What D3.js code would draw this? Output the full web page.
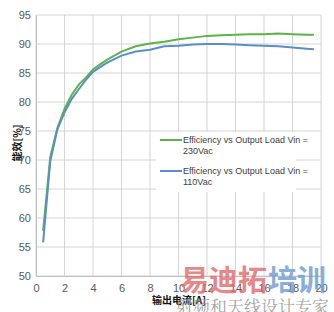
<!DOCTYPE html>
<html>
<head>
<meta charset="utf-8">
<style>
  body { margin: 0; background: #fff; }
  .tick text { font: 11px "Liberation Sans", Arial, sans-serif; fill: #595959; }
  .axis-title { font: bold 10px "Noto Sans CJK SC", sans-serif; fill: #111; }
  .legend text { font: 9px "Liberation Sans", Arial, sans-serif; fill: #404040; }
</style>
</head>
<body>
<svg id="chart" width="334" height="312"></svg>
<script src="https://d3js.org/d3.v7.min.js"></script>
<script>
  // load current (A)
  const load = [0.5, 1, 1.5, 2, 2.5, 3, 3.5, 4, 4.5, 5, 5.5, 6, 7, 8, 9, 10, 11, 12, 13, 14, 15, 16, 17, 18, 19, 19.5];
  // efficiency (%)
  const eff230 = [57.8, 70.5, 75.5, 78.8, 81.2, 83.0, 84.2, 85.6, 86.5, 87.3, 88.0, 88.7, 89.6, 90.1, 90.4, 90.8, 91.1, 91.4, 91.5, 91.6, 91.7, 91.7, 91.8, 91.7, 91.6, 91.6];
  const eff110 = [55.8, 69.8, 75.3, 78.2, 80.5, 82.2, 83.8, 85.2, 86.0, 86.8, 87.4, 88.0, 88.7, 89.0, 89.6, 89.7, 89.9, 90.0, 90.0, 89.9, 89.8, 89.7, 89.6, 89.4, 89.2, 89.1];
  const xTicks = [0, 2, 4, 6, 8, 10, 12, 14, 16, 18, 20];
  const yTicks = [50, 55, 60, 65, 70, 75, 80, 85, 90, 95];
  const seriesNames = ["Efficiency vs Output Load Vin =|230Vac", "Efficiency vs Output Load Vin =|110Vac"];

  const svg = d3.select("#chart");
  const x = d3.scaleLinear().domain([0, 20]).range([36, 321]);
  const y = d3.scaleLinear().domain([50, 95]).range([276, 15]);

  // grid
  svg.append("g")
    .selectAll("line.v")
    .data(xTicks)
    .join("line")
    .attr("x1", d => x(d)).attr("x2", d => x(d))
    .attr("y1", y(95)).attr("y2", y(50))
    .attr("stroke", "#d4d4d4");
  svg.append("g")
    .selectAll("line.h")
    .data(yTicks)
    .join("line")
    .attr("x1", x(0)).attr("x2", x(20))
    .attr("y1", d => y(d)).attr("y2", d => y(d))
    .attr("stroke", "#d4d4d4");

  const xAxis = svg.append("g")
    .attr("transform", `translate(0,${y(50)})`)
    .call(d3.axisBottom(x).tickValues(xTicks).tickSize(0).tickPadding(8));
  xAxis.select(".domain").attr("stroke", "#bfbfbf");

  const yAxis = svg.append("g")
    .attr("transform", `translate(${x(0)},0)`)
    .call(d3.axisLeft(y).tickValues(yTicks).tickSize(0).tickPadding(5));
  yAxis.select(".domain").attr("stroke", "#bfbfbf");

  const line = d3.line().x((d, i) => x(load[i])).y(d => y(d));
  const colors = ["#5db34a", "#5b8ec8"];

  // legend box
  const lg = svg.append("g").attr("class", "legend");
  lg.append("rect").attr("x", 156).attr("y", 132).attr("width", 140).attr("height", 60).attr("fill", "#fff");
  seriesNames.forEach((name, i) => {
    const yy = 140 + i * 31;
    lg.append("line").attr("x1", 160).attr("x2", 182).attr("y1", yy).attr("y2", yy)
      .attr("stroke", colors[i]).attr("stroke-width", 2);
    const parts = name.split("|");
    const t = lg.append("text").attr("x", 183).attr("y", yy + 3);
    t.append("tspan").text(parts[0]);
    t.append("tspan").attr("x", 183).attr("dy", 11).text(parts[1]);
  });

  [eff230, eff110].forEach((s, i) => {
    svg.append("path").datum(s)
      .attr("d", line)
      .attr("fill", "none")
      .attr("stroke", colors[i])
      .attr("stroke-width", 2);
  });

  svg.append("text").attr("class", "axis-title")
    .attr("transform", "translate(21,143) rotate(-90)")
    .attr("text-anchor", "middle")
    .text("能效[%]");
  svg.append("text").attr("class", "axis-title")
    .attr("x", 179).attr("y", 304)
    .attr("text-anchor", "middle")
    .text("输出电流[A]");

  // watermark
  svg.append("text").attr("x", 180).attr("y", 291)
    .attr("font-family", "Noto Sans CJK SC").attr("font-weight", "bold").attr("font-size", 29)
    .attr("fill", "#e26b6b").attr("opacity", 0.8).text("易迪拓");
  svg.append("text").attr("x", 268).attr("y", 291)
    .attr("font-family", "Noto Sans CJK SC").attr("font-weight", "bold").attr("font-size", 29)
    .attr("fill", "#6f9bd0").attr("opacity", 0.8).text("培训");
  svg.append("text").attr("x", 176).attr("y", 313)
    .attr("font-family", "Noto Serif CJK SC, Noto Sans CJK SC").attr("font-size", 17)
    .attr("fill", "#9a9a9a").attr("opacity", 0.9).text("射频和天线设计专家");
</script>
</body>
</html>
